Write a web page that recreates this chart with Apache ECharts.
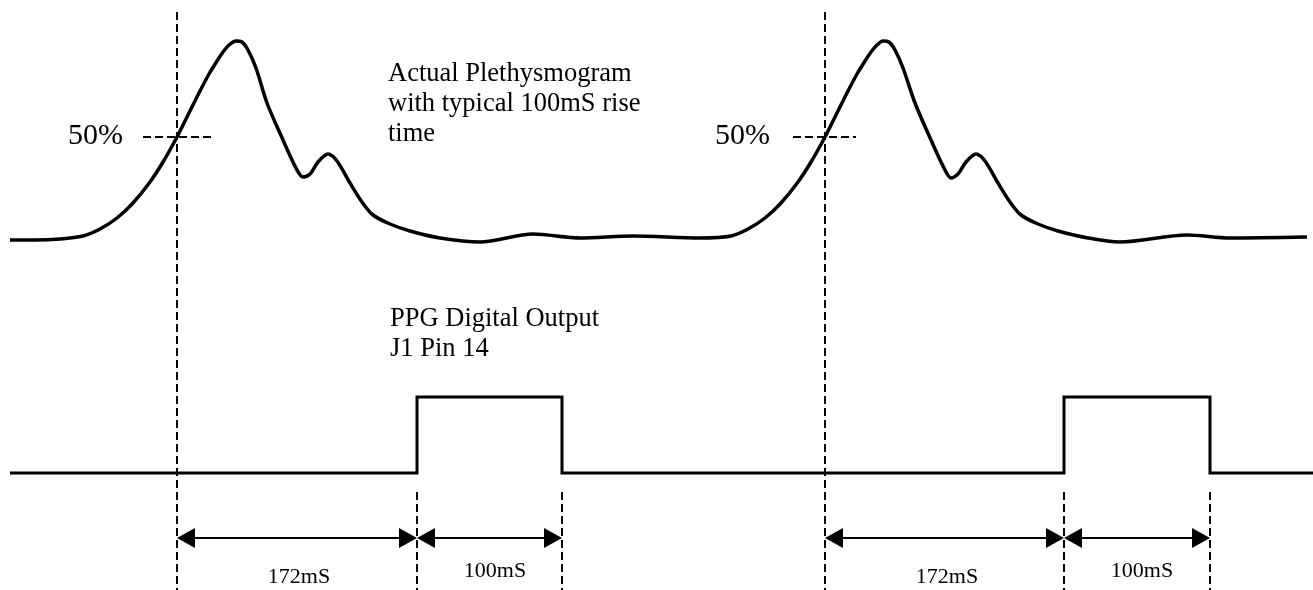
<!DOCTYPE html>
<html>
<head>
<meta charset="utf-8">
<script src="https://cdn.jsdelivr.net/npm/echarts@6/dist/echarts.min.js"></script>
<style>
html,body{margin:0;padding:0;background:#fff;}
#chart{width:1313px;height:590px;}
</style>
</head>
<body>
<div id="chart"></div>
<script>
// Plethysmogram waveform (x: horizontal units, y: vertical units, top = 0)
const plethWave = [
  [10,240],[35,240],[60,239],[83,236],[100,229],[117,218],[133,203],[150,182],[163,162],[177,137],
  [189,113],[200,91],[209,74],[217,61],[223,52],[229,45],[236,41],[242,42],[248,50],[256,68],
  [267,103],[283,140],[296,168],[303,177],[310,174],[318,162],[328,154],[337,161],[350,183],[362,202],
  [373,215],[390,224],[410,231],[440,238],[480,242],[533,234],[580,238],[633,236],[700,238],[731,236],
  [748,229],[765,218],[781,203],[798,182],[811,162],[825,137],[837,113],[848,91],[857,74],[865,61],
  [871,52],[877,45],[883,41],[889,42],[895,50],[903,68],[915,103],[931,140],[944,168],[951,178],
  [958,174],[966,162],[976,154],[985,161],[998,183],[1010,202],[1021,215],[1038,224],[1058,231],[1088,238],
  [1120,242],[1187,235],[1230,238],[1307,237]
];
// PPG digital output (square pulse)
const digitalOutput = [
  [10,473],[417,473],[417,397],[562,397],[562,473],[1064,473],[1064,397],[1210,397],[1210,473],[1313,473]
];
// dashed guide segments [x1, y1, x2, y2]
const guideLines = [
  [177,12,177,590],[825,12,825,590],
  [143,137,213,137],[793,137,856,137],
  [417,492,417,590],[562,492,562,590],[1064,492,1064,590],[1210,492,1210,590]
];
// timing arrows [xStart, xEnd, y]
const timingArrows = [
  [177,417,538],[417,562,538],[825,1064,538],[1064,1210,538]
];
// text labels
const plethLabel = ['Actual Plethysmogram','with typical 100mS rise','time'];
const digitalLabel = ['PPG Digital Output','J1 Pin 14'];
const percentLabel = '50%';
const timingLabels = ['172mS','100mS','172mS','100mS'];

const FONT = "'Liberation Serif','Times New Roman',serif";
const chart = echarts.init(document.getElementById('chart'));

function txt(text, x, y, size, align) {
  return {type:'text', x:x, y:y, silent:true,
    style:{text:text, fill:'#000', font: size + 'px ' + FONT, textAlign: align || 'left', textVerticalAlign:'middle'}};
}

const graphics = [];
plethLabel.forEach((t,i)=>graphics.push(txt(t, 388, 74 + i*30, 26.5)));
digitalLabel.forEach((t,i)=>graphics.push(txt(t, 390, 319 + i*30, 26.5)));
graphics.push(txt(percentLabel, 68, 136, 30));
graphics.push(txt(percentLabel, 715, 136, 30));
const timingLabelPos = [[299,577],[495,571],[947,577],[1142,571]];
timingLabels.forEach((t,i)=>graphics.push(txt(t, timingLabelPos[i][0], timingLabelPos[i][1], 22, 'center')));

chart.setOption({
  animation:false,
  backgroundColor:'#fff',
  grid:{left:0,right:0,top:0,bottom:0},
  xAxis:{type:'value',min:0,max:1313,show:false,splitLine:{show:false}},
  yAxis:{type:'value',min:0,max:590,inverse:true,show:false,splitLine:{show:false}},
  graphic: graphics,
  series:[
    {
      type:'custom',
      data: guideLines,
      renderItem:function(params, api){
        const a = api.coord([api.value(0), api.value(1)]);
        const b = api.coord([api.value(2), api.value(3)]);
        return {type:'line', shape:{x1:a[0],y1:a[1],x2:b[0],y2:b[1]},
          style:{stroke:'#000', lineWidth:2, lineDash:[8,4], fill:null}};
      },
      silent:true, z:1
    },
    {
      type:'line', data: plethWave, smooth:0.3, showSymbol:false,
      lineStyle:{color:'#000', width:3.5}, silent:true, z:3
    },
    {
      type:'line', data: digitalOutput, smooth:false, showSymbol:false,
      lineStyle:{color:'#000', width:3, join:'miter'}, silent:true, z:3
    },
    {
      type:'custom',
      data: timingArrows,
      renderItem:function(params, api){
        const a = api.coord([api.value(0), api.value(2)]);
        const b = api.coord([api.value(1), api.value(2)]);
        const L = 18, H = 10;
        return {type:'group', children:[
          {type:'line', shape:{x1:a[0]+L,y1:a[1],x2:b[0]-L,y2:b[1]}, style:{stroke:'#000', lineWidth:2}},
          {type:'polygon', shape:{points:[[a[0],a[1]],[a[0]+L,a[1]-H],[a[0]+L,a[1]+H]]}, style:{fill:'#000'}},
          {type:'polygon', shape:{points:[[b[0],b[1]],[b[0]-L,b[1]-H],[b[0]-L,b[1]+H]]}, style:{fill:'#000'}}
        ]};
      },
      silent:true, z:4
    }
  ]
});
</script>
</body>
</html>
